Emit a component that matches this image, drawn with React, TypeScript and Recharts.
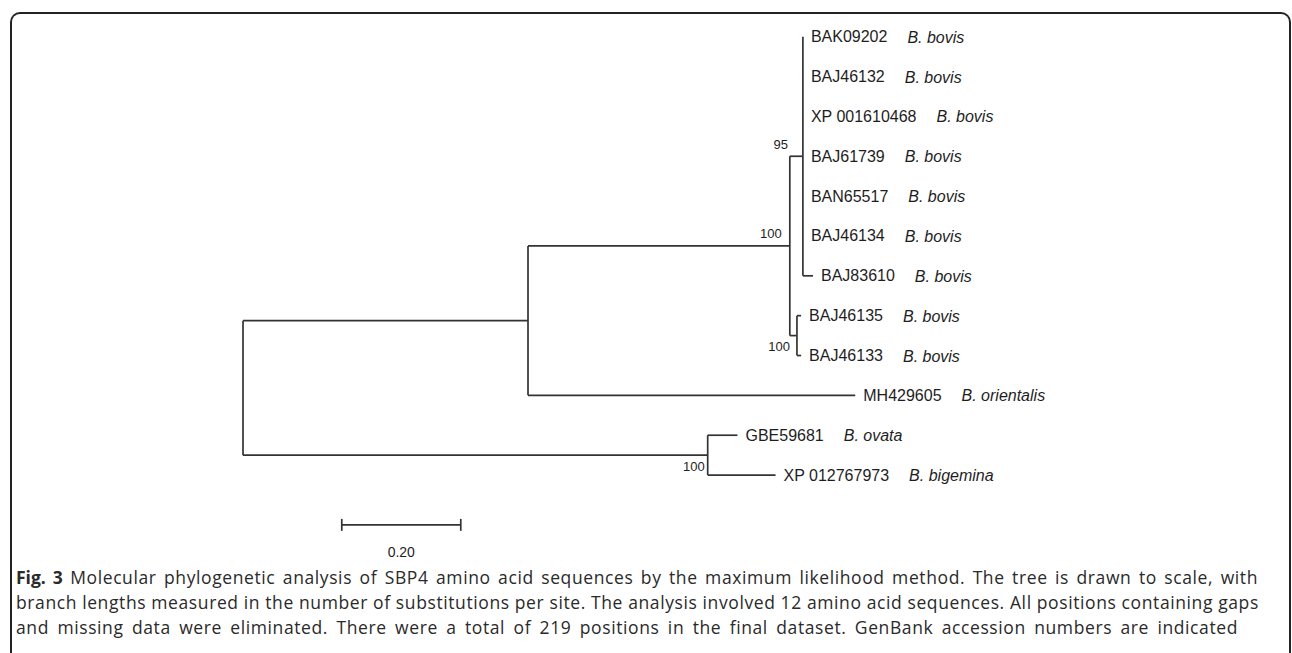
import React from 'react';
import { ComposedChart, XAxis, YAxis, ReferenceLine, Scatter } from 'recharts';

// leaves, top to bottom
const leafNames = ['BAK09202', 'BAJ46132', 'XP 001610468', 'BAJ61739', 'BAN65517', 'BAJ46134', 'BAJ83610', 'BAJ46135', 'BAJ46133', 'MH429605', 'GBE59681', 'XP 012767973'];
const leafSpecies = ['B. bovis', 'B. bovis', 'B. bovis', 'B. bovis', 'B. bovis', 'B. bovis', 'B. bovis', 'B. bovis', 'B. bovis', 'B. orientalis', 'B. ovata', 'B. bigemina'];
const leafParents = ['n95', 'n95', 'n95', 'n95', 'n95', 'n95', 'n95', 'nPair', 'nPair', 'nA', 'nOvBig', 'nOvBig'];
const leafLengths = [0, 0, 0, 0, 0, 0, 0.017, 0.007, 0.007, 0.55, 0.05, 0.114];

// internal nodes
const nodeIds = ['root', 'nA', 'nOvBig', 'nBovis', 'n95', 'nPair'];
const nodeParents: (string | null)[] = [null, 'root', 'root', 'nA', 'nBovis', 'nBovis'];
const nodeLengths = [0, 0.479, 0.781, 0.44, 0.022, 0.012];
const nodeSupport: (number | null)[] = [null, null, 100, 100, 95, 100];
const supportSide = ['', '', 'below', 'above', 'above', 'below'];
const supportDx = [0, 0, -3, -8, -15, -7];

const scaleBarLength = 0.2;
const scaleBarLabel = '0.20';

const LINE = '#333';
const TEXT = '#1e1e1e';
const ARIAL = "'Liberation Sans', Arial, sans-serif";

// ---- tree layout -----------------------------------------------------------
const parentOf: Record<string, string | null> = {};
const lenOf: Record<string, number> = {};
nodeIds.forEach((id, i) => { parentOf[id] = nodeParents[i]; lenOf[id] = nodeLengths[i]; });
leafNames.forEach((_, i) => { parentOf['leaf' + i] = leafParents[i]; lenOf['leaf' + i] = leafLengths[i]; });
const allIds = [...nodeIds, ...leafNames.map((_, i) => 'leaf' + i)];

const childrenOf = (id: string) => allIds.filter((c) => parentOf[c] === id);
const depth = (id: string): number => {
  const p = parentOf[id];
  return p ? depth(p) + lenOf[id] : 0;
};
const rowOf = (id: string): number => {
  if (id.startsWith('leaf')) return Number(id.slice(4));
  const ys = childrenOf(id).map(rowOf);
  return (Math.min(...ys) + Math.max(...ys)) / 2;
};

const horizontal = allIds
  .filter((id) => parentOf[id])
  .map((id) => [
    { x: depth(parentOf[id] as string), y: rowOf(id) },
    { x: depth(id), y: rowOf(id) },
  ]);
const vertical = nodeIds.map((id) => {
  const ys = childrenOf(id).map(rowOf);
  return [
    { x: depth(id), y: Math.min(...ys) },
    { x: depth(id), y: Math.max(...ys) },
  ];
});

const tips = leafNames.map((name, i) => ({
  x: depth('leaf' + i),
  y: i,
  name,
  species: leafSpecies[i],
}));

const supports = nodeIds
  .map((id, i) => ({ x: depth(id), y: rowOf(id), value: nodeSupport[i], side: supportSide[i], dx: supportDx[i] }))
  .filter((d) => d.value !== null);

// scale bar placement (below the tree)
const barX = 0.166;
const barY = 12.25;
const barLabel = [{ x: barX + scaleBarLength / 2, y: barY }];

const TipLabel = (props: any) => {
  const { cx, cy, payload } = props;
  return (
    <text x={cx + 8} y={cy} dominantBaseline="central" fontFamily={ARIAL} fontSize={16} fill={TEXT}>
      {payload.name}
      <tspan dx={20} fontStyle="italic">{payload.species}</tspan>
    </text>
  );
};

const SupportLabel = (props: any) => {
  const { cx, cy, payload } = props;
  const dy = payload.side === 'above' ? -12 : 11;
  return (
    <text x={cx + payload.dx} y={cy + dy} textAnchor="end" dominantBaseline="central" fontFamily={ARIAL} fontSize={13} fill={TEXT}>
      {payload.value}
    </text>
  );
};

const BarLabel = (props: any) => {
  const { cx, cy } = props;
  return (
    <text x={cx} y={cy + 27} textAnchor="middle" dominantBaseline="central" fontFamily={ARIAL} fontSize={14} fill={TEXT}>
      {scaleBarLabel}
    </text>
  );
};

const captionLine = (width: number): React.CSSProperties => ({
  width, textAlign: 'justify', textAlignLast: 'justify', whiteSpace: 'nowrap', overflow: 'visible',
});

export default function App() {
  return (
    <div style={{ position: 'fixed', left: 0, top: 0, width: 1292, height: 653, overflow: 'hidden', background: '#fff' }}>
      <div
        style={{
          position: 'absolute', left: 10, top: 12, width: 1281, height: 641,
          border: '2px solid #222', borderBottom: 'none', borderRadius: '10px 10px 0 0', boxSizing: 'border-box',
        }}
      />
      <div style={{ position: 'absolute', left: 0, top: 0 }}>
        <ComposedChart width={1292} height={580} margin={{ top: 0.835, left: 243, right: 97, bottom: 5.3 }}>
          <XAxis type="number" dataKey="x" domain={[0, 1.6]} allowDataOverflow hide />
          <YAxis type="number" dataKey="y" domain={[-0.9, 13.5]} allowDataOverflow reversed hide />
          {horizontal.map((seg, i) => (
            <ReferenceLine key={'h' + i} segment={seg} stroke={LINE} strokeWidth={1.7} ifOverflow="visible" />
          ))}
          {vertical.map((seg, i) => (
            <ReferenceLine key={'v' + i} segment={seg} stroke={LINE} strokeWidth={1.7} ifOverflow="visible" />
          ))}
          <ReferenceLine segment={[{ x: barX, y: barY }, { x: barX + scaleBarLength, y: barY }]} stroke={LINE} strokeWidth={1.7} ifOverflow="visible" />
          <ReferenceLine segment={[{ x: barX, y: barY - 0.15 }, { x: barX, y: barY + 0.15 }]} stroke={LINE} strokeWidth={1.7} ifOverflow="visible" />
          <ReferenceLine segment={[{ x: barX + scaleBarLength, y: barY - 0.15 }, { x: barX + scaleBarLength, y: barY + 0.15 }]} stroke={LINE} strokeWidth={1.7} ifOverflow="visible" />
          <Scatter data={tips} dataKey="y" shape={<TipLabel />} isAnimationActive={false} />
          <Scatter data={supports} dataKey="y" shape={<SupportLabel />} isAnimationActive={false} />
          <Scatter data={barLabel} dataKey="y" shape={<BarLabel />} isAnimationActive={false} />
        </ComposedChart>
      </div>
      <div
        style={{
          position: 'absolute', left: 16, top: 565, fontFamily: "'Open Sans', sans-serif", fontSize: 17.5,
          letterSpacing: 0.6, lineHeight: '25px', color: '#2a2a2a',
        }}
      >
        <div style={captionLine(1242)}><b style={{ letterSpacing: 0 }}>Fig. 3</b> Molecular phylogenetic analysis of SBP4 amino acid sequences by the maximum likelihood method. The tree is drawn to scale, with</div>
        <div style={captionLine(1238)}>branch lengths measured in the number of substitutions per site. The analysis involved 12 amino acid sequences. All positions containing gaps</div>
        <div style={captionLine(1222)}>and missing data were eliminated. There were a total of 219 positions in the final dataset. GenBank accession numbers are indicated</div>
      </div>
    </div>
  );
}
